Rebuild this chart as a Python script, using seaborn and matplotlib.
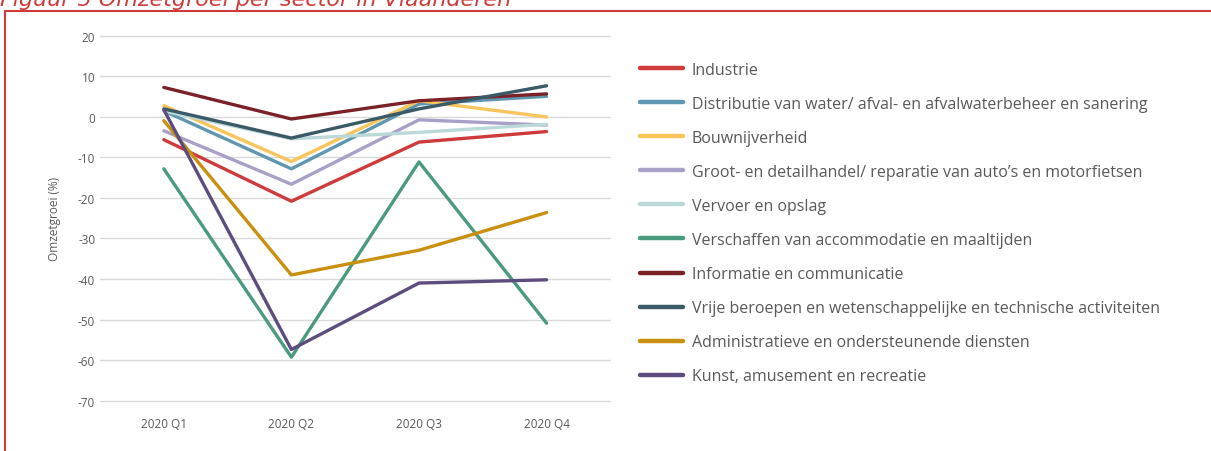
import pandas as pd
import matplotlib
matplotlib.use("Agg")
import matplotlib.pyplot as plt
import seaborn as sns
from matplotlib.patches import Rectangle

quarters = ["2020 Q1", "2020 Q2", "2020 Q3", "2020 Q4"]

sectors = [
    "Industrie",
    "Distributie van water/ afval- en afvalwaterbeheer en sanering",
    "Bouwnijverheid",
    "Groot- en detailhandel/ reparatie van auto\u2019s en motorfietsen",
    "Vervoer en opslag",
    "Verschaffen van accommodatie en maaltijden",
    "Informatie en communicatie",
    "Vrije beroepen en wetenschappelijke en technische activiteiten",
    "Administratieve en ondersteunende diensten",
    "Kunst, amusement en recreatie",
]

industrie = [-5.6, -20.8, -6.2, -3.6]
distributie = [1.5, -12.8, 3.2, 5.1]
bouw = [2.8, -11.0, 4.0, 0.0]
handel = [-3.4, -16.6, -0.7, -2.0]
vervoer = [1.5, -5.4, -3.8, -1.8]
horeca = [-12.8, -59.3, -11.1, -50.9]
informatie = [7.3, -0.5, 4.0, 5.7]
vrije_beroepen = [2.0, -5.2, 2.0, 7.7]
administratief = [-0.9, -39.0, -32.9, -23.6]
kunst = [1.8, -57.4, -41.0, -40.2]

colors = ["#CF3B3B", "#5F97B0", "#F8C45C", "#A9A0C7", "#BCD9DA",
          "#4A9A7E", "#7A2227", "#3A5A68", "#C8900E", "#5C4D7E"]

series = [industrie, distributie, bouw, handel, vervoer, horeca,
          informatie, vrije_beroepen, administratief, kunst]

rows = []
for name, vals in zip(sectors, series):
    for q, v in zip(quarters, vals):
        rows.append({"kwartaal": q, "sector": name, "groei": v})
df = pd.DataFrame(rows)

sns.set_style("white")
plt.rcParams["font.family"] = ["Open Sans", "DejaVu Sans"]
plt.rcParams["axes.unicode_minus"] = False

fig = plt.figure(figsize=(12.11, 4.52), dpi=100)
ax = fig.add_axes([0.0826, 0.1117, 0.4214, 0.8065])

sns.lineplot(data=df, x="kwartaal", y="groei", hue="sector", hue_order=sectors,
             palette=dict(zip(sectors, colors)), linewidth=2.4, sort=False, ax=ax)

ax.set_xlim(-0.5, 3.5)
ax.set_ylim(-70, 20)
ax.set_yticks(range(-70, 21, 10))
ax.grid(axis="y", color="#D9D9D9", linewidth=1)
ax.set_axisbelow(True)
for gl in ax.get_ygridlines():
    gl.set_clip_on(False)
for s in ax.spines.values():
    s.set_visible(False)
ax.tick_params(axis="both", length=0, labelsize=8.5, labelcolor="#595959")
ax.tick_params(axis="x", pad=12)
ax.set_xlabel("")
ax.set_ylabel("Omzetgroei (%)", fontsize=8.5, color="#595959", labelpad=12)

handles, labels = ax.get_legend_handles_labels()
ax.legend_.remove()
for h in handles:
    h.set_linewidth(3.2)
    h.set_solid_capstyle("round")
fig.legend(handles, labels, loc="upper left", bbox_to_anchor=(0.5285, 0.861),
           frameon=False, fontsize=11.5, handlelength=2.7, handletextpad=0.55,
           labelspacing=1.13, borderpad=0, borderaxespad=0, labelcolor="#595959")

# frame and (partly cut off) caption
fig.patches.append(Rectangle((5 / 1211, -0.1), 1.2, 1.1 - 12 / 452,
                             transform=fig.transFigure, fill=False,
                             edgecolor="#CF3B3B", linewidth=1.5))
fig.text(0.0, 1 - 6 / 452, "Figuur 5 Omzetgroei per sector in Vlaanderen",
         fontsize=16, style="italic", color="#CF3B3B", va="baseline",
         family=["DejaVu Sans"])

plt.savefig("out.png", dpi=100)
